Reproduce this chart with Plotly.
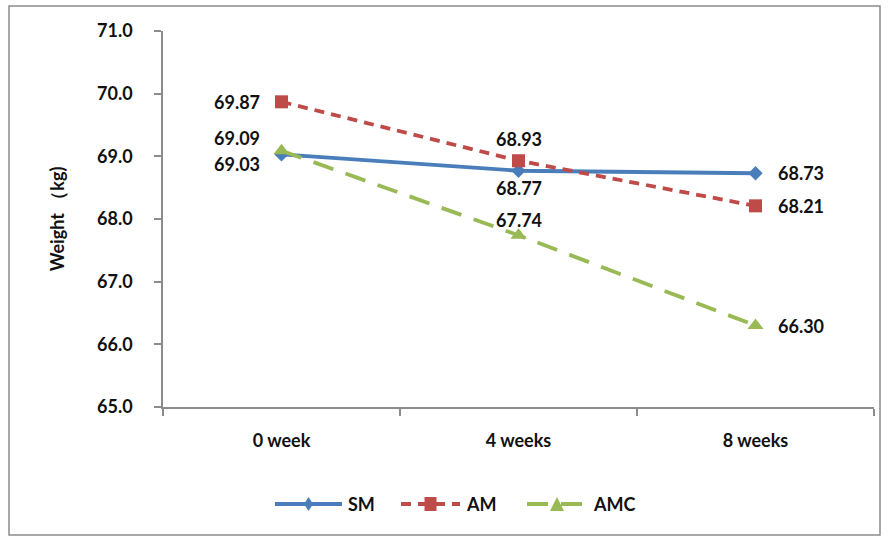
import plotly.graph_objects as go

categories = ["0 week", "4 weeks", "8 weeks"]
sm = [69.03, 68.77, 68.73]
am = [69.87, 68.93, 68.21]
amc = [69.09, 67.74, 66.30]
y_ticks = [65.0, 66.0, 67.0, 68.0, 69.0, 70.0, 71.0]

FONT = "Lato"
FS = 18
TXT = "#111111"
W, H = 893, 538
L, R, T, B = 163, 19, 31, 131
pw = W - L - R
ph = H - T - B


def px(x):
    return (x - L) / pw


def py(y):
    return (H - B - y) / ph


fig = go.Figure()

series = [
    ("SM", sm, "#4A7EBB", "solid", "diamond", 11),
    ("AM", am, "#BE4B48", "10px,7px", "square", 13),
    ("AMC", amc, "#98B954", "21px,13px", "triangle-up", 14),
]
for name, vals, color, dash, sym, msize in series:
    fig.add_trace(go.Scatter(
        x=categories, y=vals, name=name, mode="lines+markers",
        line=dict(color=color, width=3.8, dash=dash),
        marker=dict(symbol=sym, size=msize, color=color),
        hoverinfo="skip", showlegend=False,
    ))

# data label placement: (xanchor, xshift, yshift)
label_pos = {
    "SM": [("right", -20, -10), ("center", 0, -17), ("left", 20, 0)],
    "AM": [("right", -20, 0), ("center", 0, 22), ("left", 20, 0)],
    "AMC": [("right", -20, 13), ("center", 0, 15), ("left", 20, 0)],
}
for name, vals, *_ in series:
    for i, (c, v) in enumerate(zip(categories, vals)):
        xa, xs, ys = label_pos[name][i]
        fig.add_annotation(
            x=c, y=v, text=f"<b>{v:.2f}</b>", showarrow=False,
            xanchor=xa, yanchor="middle", xshift=xs, yshift=ys,
            font=dict(family=FONT, size=FS, color=TXT),
        )

# custom legend (line sample + marker + label)
leg_y = 504
leg_items = [(275, 342), (401, 460), (527, 587)]
for (name, vals, color, dash, sym, msize), (x0, x1) in zip(series, leg_items):
    fig.add_shape(type="line", xref="paper", yref="paper",
                  x0=px(x0), x1=px(x1), y0=py(leg_y), y1=py(leg_y),
                  line=dict(color=color, width=3.8, dash=dash))
    cx = (x0 + x1) / 2
    if sym == "diamond":
        path = f"M {px(cx)} {py(leg_y-7)} L {px(cx+4.5)} {py(leg_y)} L {px(cx)} {py(leg_y+7)} L {px(cx-4.5)} {py(leg_y)} Z"
    elif sym == "square":
        path = f"M {px(cx-6)} {py(leg_y-7)} L {px(cx+6)} {py(leg_y-7)} L {px(cx+6)} {py(leg_y+7)} L {px(cx-6)} {py(leg_y+7)} Z"
    else:
        path = f"M {px(cx)} {py(leg_y-7)} L {px(cx+7)} {py(leg_y+7)} L {px(cx-7)} {py(leg_y+7)} Z"
    fig.add_shape(type="path", xref="paper", yref="paper", path=path,
                  fillcolor=color, line=dict(color=color, width=0))
    fig.add_annotation(xref="paper", yref="paper", x=px(x1 + 4), y=py(leg_y),
                       text=f"<b>{name}</b>", showarrow=False,
                       xanchor="left", yanchor="middle",
                       font=dict(family=FONT, size=FS, color=TXT))

# outer chart border
fig.add_shape(
    type="rect", xref="paper", yref="paper",
    x0=px(9), x1=px(880), y0=py(535), y1=py(6),
    line=dict(color="#8C8C8C", width=1.5), fillcolor="rgba(0,0,0,0)", layer="below",
)

fig.update_layout(
    width=W, height=H,
    margin=dict(l=L, r=R, t=T, b=B),
    paper_bgcolor="white", plot_bgcolor="white",
    font=dict(family=FONT, size=FS, color=TXT),
    showlegend=False,
    xaxis=dict(
        type="category", range=[-0.5, 2.5],
        showline=True, linecolor="#8C8C8C", linewidth=1.5,
        ticks="outside", ticklen=7, tickcolor="#8C8C8C", tickwidth=1.5,
        tickson="boundaries", showgrid=False, zeroline=False,
        tickfont=dict(family=FONT, size=FS, color=TXT),
        ticklabelstandoff=17,
        tickvals=categories, ticktext=[f"<b>{c}</b>" for c in categories],
    ),
    yaxis=dict(
        range=[65.0, 71.0], tickvals=y_ticks,
        ticktext=[f"<b>{t:.1f}</b>" for t in y_ticks],
        showline=True, linecolor="#8C8C8C", linewidth=1.5,
        ticks="outside", ticklen=7, tickcolor="#8C8C8C", tickwidth=1.5,
        showgrid=False, zeroline=False,
        tickfont=dict(family=FONT, size=FS, color=TXT),
        ticklabelstandoff=18,
        title=dict(text="<b>Weight （kg)</b>", font=dict(family=FONT, size=FS, color=TXT), standoff=28),
    ),
)

fig.write_html("out.html")
